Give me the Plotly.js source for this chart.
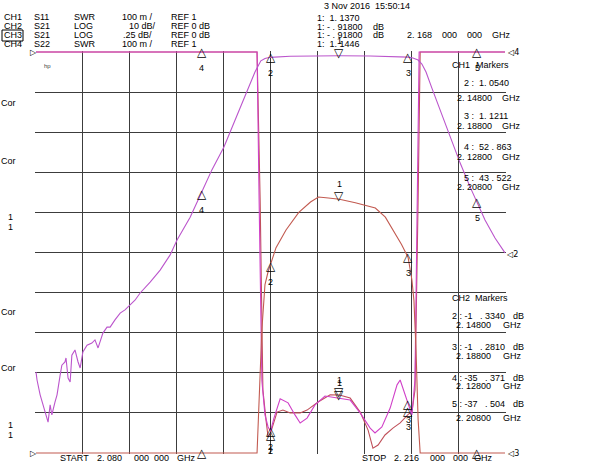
<!DOCTYPE html>
<html>
<head>
<meta charset="utf-8">
<script src="https://cdn.plot.ly/plotly-3.0.1.min.js"></script>
<style>html,body{margin:0;padding:0;background:#fff;}#chart{width:600px;height:464px;}</style>
</head>
<body>
<div id="chart"></div>
<script>
// ---- data (frequency in GHz) ----
const startGHz = 2.080, stopGHz = 2.216;

// CH2: S21 LOG 10 dB/div, REF 0 dB
const ch2Freq = [2.0800,2.0803,2.0812,2.0820,2.0826,2.0832,2.0835,2.0841,2.0846,2.0855,
                 2.0861,2.0870,2.0875,2.0884,2.0887,2.0893,2.0899,2.0904,2.0913,2.0922,
                 2.0928,2.0936,2.0948,2.0962,2.0971,2.0980,2.0994,2.1006,2.1015,2.1029,
                 2.1044,2.1058,2.1073,2.1087,2.1102,2.1131,2.1160,2.1189,2.1209,2.1247,
                 2.1278,2.1310,2.1345,2.1377,2.1406,2.1421,2.1435,2.1444,2.1452,2.1464,
                 2.1479,2.1537,2.1595,2.1680,2.1769,2.1841,2.1879,2.1893,2.1908,2.1919,
                 2.1931,2.1948,2.1972,2.2001,2.2030,2.2059,2.2079,2.2102,2.2131,2.2160];
const ch2Val  = [-79.8,-81.8,-85.5,-88.0,-89.3,-91.3,-92.3,-88.0,-90.5,-87.3,
                 -85.5,-80.6,-78.1,-77.3,-76.3,-81.3,-82.3,-75.6,-74.3,-77.3,
                 -78.8,-74.8,-73.1,-72.6,-71.8,-73.8,-70.1,-68.6,-68.6,-66.8,
                 -65.1,-64.3,-63.1,-61.9,-60.1,-57.4,-54.4,-50.6,-46.9,-41.2,
                 -35.4,-29.4,-23.7,-17.0,-10.7,-7.7,-5.0,-3.5,-2.2,-1.6,
                 -1.33,-1.05,-0.95,-0.92,-0.98,-1.10,-1.28,-1.5,-2.0,-3.0,
                 -5.0,-9.0,-14.5,-21.2,-27.7,-33.7,-37.5,-41.9,-46.4,-50.1];

// CH3: S21 LOG .25 dB/div, REF 0 dB (values beyond screen shown at the limit)
const ch3Freq = [2.0800,2.1441,2.1455,2.1464,2.1473,2.1479,2.1496,2.1525,2.1562,2.1596,
                 2.1619,2.1648,2.1680,2.1726,2.1784,2.1813,2.1842,2.1860,2.1879,2.1890,
                 2.1896,2.1902,2.1908,2.1914,2.2160];
const ch3Val  = [-2.5,-2.5,-1.73,-1.45,-1.37,-1.334,-1.22,-1.11,-1.00,-0.935,
                 -0.904,-0.91,-0.918,-0.94,-0.973,-1.03,-1.13,-1.20,-1.281,-1.42,
                 -1.55,-1.86,-2.29,-2.5,-2.5];

// CH1: S11 SWR 100 m/div, REF 1
const ch1Freq = [2.0800,2.1441,2.1447,2.1455,2.1464,2.1473,2.1480,2.1490,2.1508,2.1531,
                 2.1551,2.1566,2.1586,2.1609,2.1638,2.1680,2.1711,2.1740,2.1769,2.1783,
                 2.1803,2.1827,2.1847,2.1856,2.1868,2.1880,2.1890,2.1899,2.1905,2.1911,2.2160];
const ch1Val  = [2.0,2.0,1.63,1.18,1.095,1.065,1.054,1.087,1.135,1.125,
                 1.095,1.075,1.087,1.12,1.142,1.137,1.132,1.10,1.062,1.05,
                 1.065,1.112,1.17,1.182,1.152,1.121,1.095,1.182,1.63,2.0,2.0];

// CH4: S22 SWR 100 m/div, REF 1
const ch4Freq = [2.0800,2.1441,2.1450,2.1458,2.1467,2.1473,2.1481,2.1499,2.1516,2.1537,
                 2.1566,2.1586,2.1618,2.1653,2.1680,2.1711,2.1740,2.1763,2.1777,2.1792,
                 2.1812,2.1835,2.1856,2.1870,2.1880,2.1890,2.1899,2.1908,2.1914,2.2160];
const ch4Val  = [2.0,2.0,1.63,1.157,1.082,1.040,1.052,1.102,1.107,1.100,
                 1.100,1.107,1.127,1.145,1.1446,1.137,1.102,1.057,1.012,1.020,
                 1.045,1.062,1.075,1.087,1.097,1.102,1.157,1.63,2.0,2.0];

// markers
const markerNum  = ['1','2','3','4','5'];
const markerFreq = [2.168, 2.148, 2.188, 2.128, 2.208];
const ch1Mk = [1.1370, 1.0540, 1.1211, 52.863, 43.522];
const ch2Mk = [-0.918, -1.334, -1.281, -35.371, -37.504];
const ch3Mk = [-0.918, -1.334, -1.281, -35.371, -37.504];
const ch4Mk = [1.1446, 1.045, 1.105];

// ---- layout geometry ----
const L = 35, T = 51, W = 471, H = 403;
const FONT = 'Liberation Sans, Arial, sans-serif';
const GRID = '#3c3c3c';
const gxPad = (stopGHz - startGHz) / 469;
const swrLo = 1, swrHi = 2, s21Lo = -100, s21Hi = 0, fLo = -2.5, fHi = 0;
const pad = v => v / 401;

function px(x){ return (x - L) / W; }
function py(y){ return (T + H - y) / H; }
const ann = [];
function txt(s, x, y, o){
  ann.push(Object.assign({xref:'paper', yref:'paper', x:px(x), y:py(y), xanchor:'left', yanchor:'middle',
    text:s, showarrow:false, borderpad:0, font:{family:FONT, size:9, color:'#000'}}, o||{}));
}

// header
const hdr = [['CH1','S11','SWR','100 m /','REF 1'],['CH2','S21','LOG','10 dB/','REF 0 dB'],
             ['CH3','S21','LOG','.25 dB/','REF 0 dB'],['CH4','S22','SWR','100 m /','REF 1']];
const hdrY = [17, 26, 35, 44];
const hdrX = [3, 33, 73, 121, 170];
hdr.forEach((r, i) => r.forEach((s, j) => {
  let x = hdrX[j];
  if (j === 3 && s === '10 dB/') x = 128;
  if (j === 3 && s === '.25 dB/') x = 122;
  txt(s, x, hdrY[i]);
}));
txt('3 Nov 2016  15:50:14', 323, 6);
txt('1:  1. 1370', 316, 18);
txt('1: - . 91800', 316, 27); txt('dB', 372, 27);
txt('1: - . 91800', 316, 35); txt('dB', 372, 35); txt('2. 168    000    000    GHz', 406, 35);
txt('1:  1. 1446', 316, 44);

// right marker panels
txt('CH1', 451, 65); txt('Markers', 475, 65);
const p1 = [['2 :  1. 0540','2. 14800',83,98],['3 :  1. 1211','2. 18800',116,126],
            ['4 :  52 . 863','2. 12800',147,157],['5 :  43 . 522','2. 20800',178,187]];
p1.forEach(r => { txt(r[0], 463, r[2]); txt(r[1], 456, r[3]); txt('GHz', 501, r[3]); });
txt('CH2', 451, 298); txt('Markers', 474, 298);
const p2 = [['2 : -1   . 3340','2. 14800',316,325],['3 : -1   . 2810','2. 18800',347,356],
            ['4 : -35   . 371','2. 12800',378,386],['5 : -37   . 504','2. 20800',404,418]];
p2.forEach(r => { txt(r[0], 451, r[2]); txt('dB', 512, r[2]); txt(r[1], 455, r[3]); txt('GHz', 502, r[3]); });

// bottom
txt('START', 59, 458); txt('2. 080', 96, 458); txt('000', 133, 458); txt('000', 153, 458); txt('GHz', 176, 458);
txt('STOP', 361, 458); txt('2. 216', 393, 458); txt('000', 429, 458); txt('000', 452, 458); txt('GHz', 473, 458);

// left labels
[103, 161, 312, 368].forEach(y => txt('Cor', 0, y));
[217, 227, 425, 435].forEach(y => txt('1', 7, y));
txt('hp', 43, 66, {font:{family:FONT, size:6, color:'#444'}});

// reference pointers
const PF = {family:'DejaVu Sans', size:8, color:'#000'};
txt('▷', 29, 52, {font:PF});
txt('▷', 29, 453, {font:PF});
txt('◁4', 506, 52, {font:PF});
txt('◁2', 505, 254, {font:PF});
txt('◁3', 506, 453, {font:PF});

// marker symbols drawn at marker frequency / value on each channel's axis
function mk(f, v, yref, lo, hi, label, down){
  const vv = Math.max(lo, Math.min(hi, v));
  ann.push({xref:'x', yref:yref, x:f, y:vv, showarrow:false, borderpad:0,
    text: down ? '▽' : '△', yanchor: down ? 'bottom' : 'top', yshift: down ? -5 : 8,
    font:{family:'DejaVu Sans', size:12, color:'#000'}});
  if (v < lo) return; // below screen: only the pointer is visible
  ann.push({xref:'x', yref:yref, x:f, y:vv, showarrow:false, borderpad:0, text:label,
    yanchor: down ? 'bottom' : 'top', yshift: down ? 9 : -10,
    font:{family:FONT, size:9, color:'#000'}});
}
markerFreq.forEach((f, i) => {
  mk(f, ch1Mk[i], 'y',  swrLo, swrHi, markerNum[i], i === 0);
  mk(f, ch2Mk[i], 'y2', s21Lo, s21Hi, markerNum[i], i === 0);
  mk(f, ch3Mk[i], 'y3', fLo, fHi, markerNum[i], i === 0);
  if (i < ch4Mk.length) mk(f, ch4Mk[i], 'y', swrLo, swrHi, markerNum[i], i === 0);
});

const shapes = [{type:'rect', xref:'paper', yref:'paper', x0:px(2), x1:px(23), y0:py(41), y1:py(30),
  line:{color:'#000', width:1}, fillcolor:'rgba(0,0,0,0)'}];

const traces = [
  {x:ch2Freq, y:ch2Val, yaxis:'y2', mode:'lines', line:{color:'#bb55cc', width:1.1}, hoverinfo:'skip'},
  {x:ch3Freq, y:ch3Val, yaxis:'y3', mode:'lines', line:{color:'#c25a50', width:1.1}, hoverinfo:'skip'},
  {x:ch4Freq, y:ch4Val, yaxis:'y',  mode:'lines', line:{color:'#c0505a', width:1.1}, hoverinfo:'skip'},
  {x:ch1Freq, y:ch1Val, yaxis:'y',  mode:'lines', line:{color:'#d040c8', width:1.1}, hoverinfo:'skip'}
];

const hidden = {overlaying:'y', showgrid:false, showticklabels:false, ticks:'', zeroline:false, showline:false, fixedrange:true};
const layout = {
  width:600, height:464, margin:{l:L, r:600-L-W, t:T, b:464-T-H, pad:0},
  paper_bgcolor:'#fff', plot_bgcolor:'#fff', showlegend:false,
  xaxis:{range:[startGHz - gxPad, stopGHz + gxPad], tick0:startGHz, dtick:(stopGHz - startGHz)/10,
         showgrid:true, gridcolor:GRID, gridwidth:1, showticklabels:false, ticks:'', zeroline:false, showline:false, fixedrange:true},
  yaxis:{range:[swrLo - pad(swrHi - swrLo), swrHi + pad(swrHi - swrLo)], tick0:swrLo, dtick:(swrHi - swrLo)/10,
         showgrid:true, gridcolor:GRID, gridwidth:1, showticklabels:false, ticks:'', zeroline:false, showline:false, fixedrange:true},
  yaxis2:Object.assign({range:[s21Lo - pad(s21Hi - s21Lo), s21Hi + pad(s21Hi - s21Lo)]}, hidden),
  yaxis3:Object.assign({range:[fLo - pad(fHi - fLo), fHi + pad(fHi - fLo)]}, hidden),
  annotations:ann, shapes:shapes
};
Plotly.newPlot('chart', traces, layout, {staticPlot:true, displayModeBar:false});
</script>
</body>
</html>
